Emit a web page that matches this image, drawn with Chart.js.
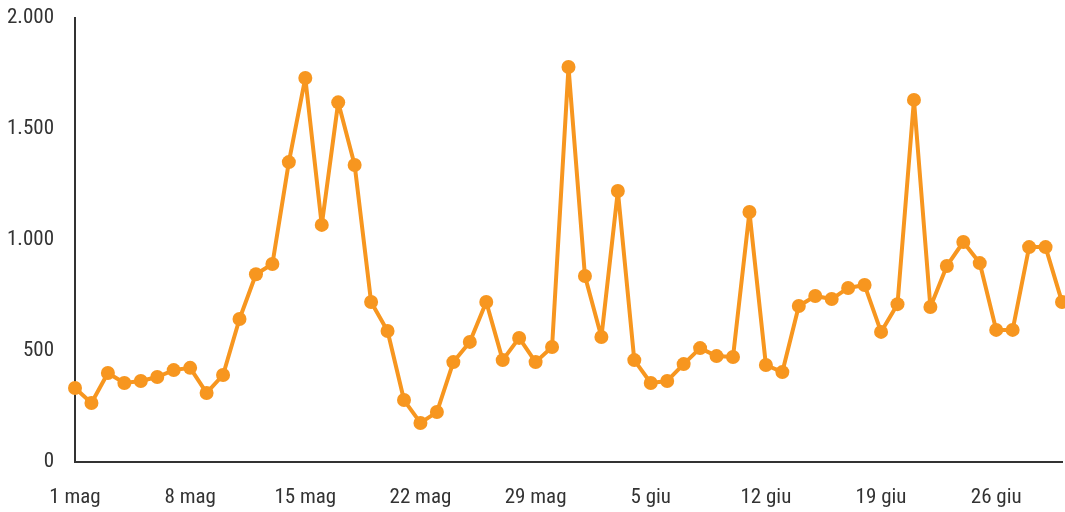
<!DOCTYPE html>
<html>
<head>
<meta charset="utf-8">
<script src="https://cdn.jsdelivr.net/npm/chart.js@4/dist/chart.umd.min.js"></script>
<style>
  html, body { margin: 0; padding: 0; background: #fff; }
  canvas { display: block; }
</style>
</head>
<body>
<canvas id="lineChart" width="1065" height="512"></canvas>
<script>
// Days: 1 mag .. 30 giu
const mayDays = Array.from({ length: 31 }, (_, i) => (i + 1) + " mag");
const juneDays = Array.from({ length: 30 }, (_, i) => (i + 1) + " giu");
const dayLabels = mayDays.concat(juneDays);

// Daily values
const visits = [
  333, 266, 401, 356, 365, 383, 414, 424, 311, 392,
  644, 846, 892, 1351, 1730, 1068, 1620, 1338, 721, 590,
  279, 176, 225, 450, 541, 721, 459, 559, 450, 518,
  1779, 838, 563, 1221, 459, 356, 365, 441, 513, 477,
  473, 1126, 437, 405, 703, 748, 734, 784, 797, 586,
  711, 1631, 698, 883, 991, 896, 595, 595, 968, 968,
  721,
];

// Y tick values
const yTicks = [0, 500, 1000, 1500, 2000];

const lineColor = "#F7961F";
const textColor = "#333333";
const fontFamily = "'Roboto Condensed', 'DejaVu Sans Condensed', 'Liberation Sans Narrow', Roboto, sans-serif";
const tickFont = { family: fontFamily, size: 21, weight: "condensed" };

const ctx = document.getElementById("lineChart").getContext("2d");

new Chart(ctx, {
  type: "line",
  data: {
    labels: dayLabels,
    datasets: [
      {
        data: visits,
        borderColor: lineColor,
        backgroundColor: lineColor,
        borderWidth: 4,
        borderJoinStyle: "round",
        pointRadius: 7,
        pointHoverRadius: 7,
        pointBorderWidth: 0,
        tension: 0,
        clip: false,
      },
    ],
  },
  options: {
    responsive: false,
    animation: false,
    layout: { autoPadding: false, padding: { top: 18, right: 3, left: 0, bottom: 0 } },
    plugins: { legend: { display: false }, tooltip: { enabled: false } },
    scales: {
      x: {
        // invisible tick marks push the labels down without extra side padding
        grid: { display: true, color: "transparent", drawOnChartArea: false, drawTicks: true, tickLength: 23 },
        border: { display: true, color: "#333", width: 2 },
        ticks: {
          autoSkip: false,
          maxRotation: 0,
          color: textColor,
          padding: 0,
          font: tickFont,
          callback: function (value, index) {
            return index % 7 === 0 ? this.getLabelForValue(value) : "";
          },
        },
        afterFit: (scale) => { scale.height = 50; },
      },
      y: {
        min: 0,
        max: 2000,
        grid: { display: true, color: "transparent", drawOnChartArea: false, drawTicks: true, tickLength: 21 },
        border: { display: true, color: "#333", width: 2 },
        afterBuildTicks: (scale) => {
          scale.ticks = yTicks.map((v) => ({ value: v }));
        },
        ticks: {
          color: textColor,
          padding: 0,
          font: tickFont,
          callback: (v) => v.toLocaleString("it-IT"),
        },
        afterFit: (scale) => { scale.width = 75; },
      },
    },
  },
});
</script>
</body>
</html>
